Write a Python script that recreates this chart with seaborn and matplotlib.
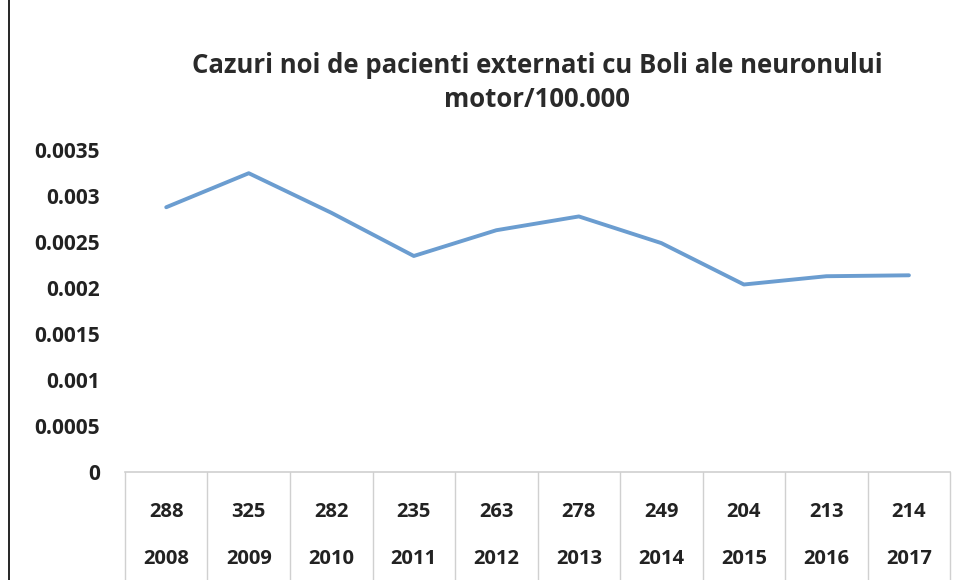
import matplotlib
matplotlib.use('Agg')
import matplotlib.pyplot as plt
import matplotlib.transforms as mtransforms
import pandas as pd
import seaborn as sns

years = ['2008', '2009', '2010', '2011', '2012', '2013', '2014', '2015', '2016', '2017']
cases = [288, 325, 282, 235, 263, 278, 249, 204, 213, 214]
rates = [0.00288, 0.00325, 0.00282, 0.00235, 0.00263, 0.00278, 0.00249, 0.00204, 0.00213, 0.00214]
yticks = [0, 0.0005, 0.001, 0.0015, 0.002, 0.0025, 0.003, 0.0035]
ytick_labels = ['0', '0.0005', '0.001', '0.0015', '0.002', '0.0025', '0.003', '0.0035']
title = 'Cazuri noi de pacienti externati cu Boli ale neuronului\nmotor/100.000'

sns.set_style('white')
plt.rcParams['font.family'] = ['Open Sans', 'DejaVu Sans']

df = pd.DataFrame({'pos': range(len(years)), 'rate': rates})

fig = plt.figure(figsize=(9.54, 5.8), dpi=100)
ax = fig.add_axes([0.131, 0.186, 0.865, 0.555])

sns.lineplot(data=df, x='pos', y='rate', color='#6b9dd0', linewidth=2.8, ax=ax)

ax.set_xlim(-0.5, len(years) - 0.5)
ax.set_ylim(0, 0.0035)
ax.set_yticks(yticks)
ax.set_yticklabels(ytick_labels, fontsize=15, fontweight='bold', color='#222222')
ax.tick_params(axis='y', length=0, pad=18)
ax.set_xticks([])
ax.set_xlabel('')
ax.set_ylabel('')
for side in ['top', 'right', 'left']:
    ax.spines[side].set_visible(False)
ax.spines['bottom'].set_color('#d0d0d0')
ax.spines['bottom'].set_linewidth(1.2)

# data table under the axis
trans = mtransforms.blended_transform_factory(ax.transData, ax.transAxes)
for i, (n, yr) in enumerate(zip(cases, years)):
    ax.text(i, -0.125, str(n), transform=trans, ha='center', va='center',
            fontsize=14.5, fontweight='bold', color='#222222', clip_on=False)
    ax.text(i, -0.27, yr, transform=trans, ha='center', va='center',
            fontsize=14.5, fontweight='bold', color='#222222', clip_on=False)
for k in range(len(years) + 1):
    ax.plot([k - 0.5, k - 0.5], [0, -0.34], transform=trans, color='#d0d0d0',
            linewidth=1.0, clip_on=False)

fig.text(0.563, 0.858, title, ha='center', va='center', fontsize=18.5,
         fontweight='bold', color='#2a2a2a', linespacing=1.35)

# left border line of the image
fig.add_artist(plt.Line2D([0.009, 0.009], [0.0, 1.0], transform=fig.transFigure,
                          color='black', linewidth=1.2))

fig.savefig('out.png', dpi=100)
